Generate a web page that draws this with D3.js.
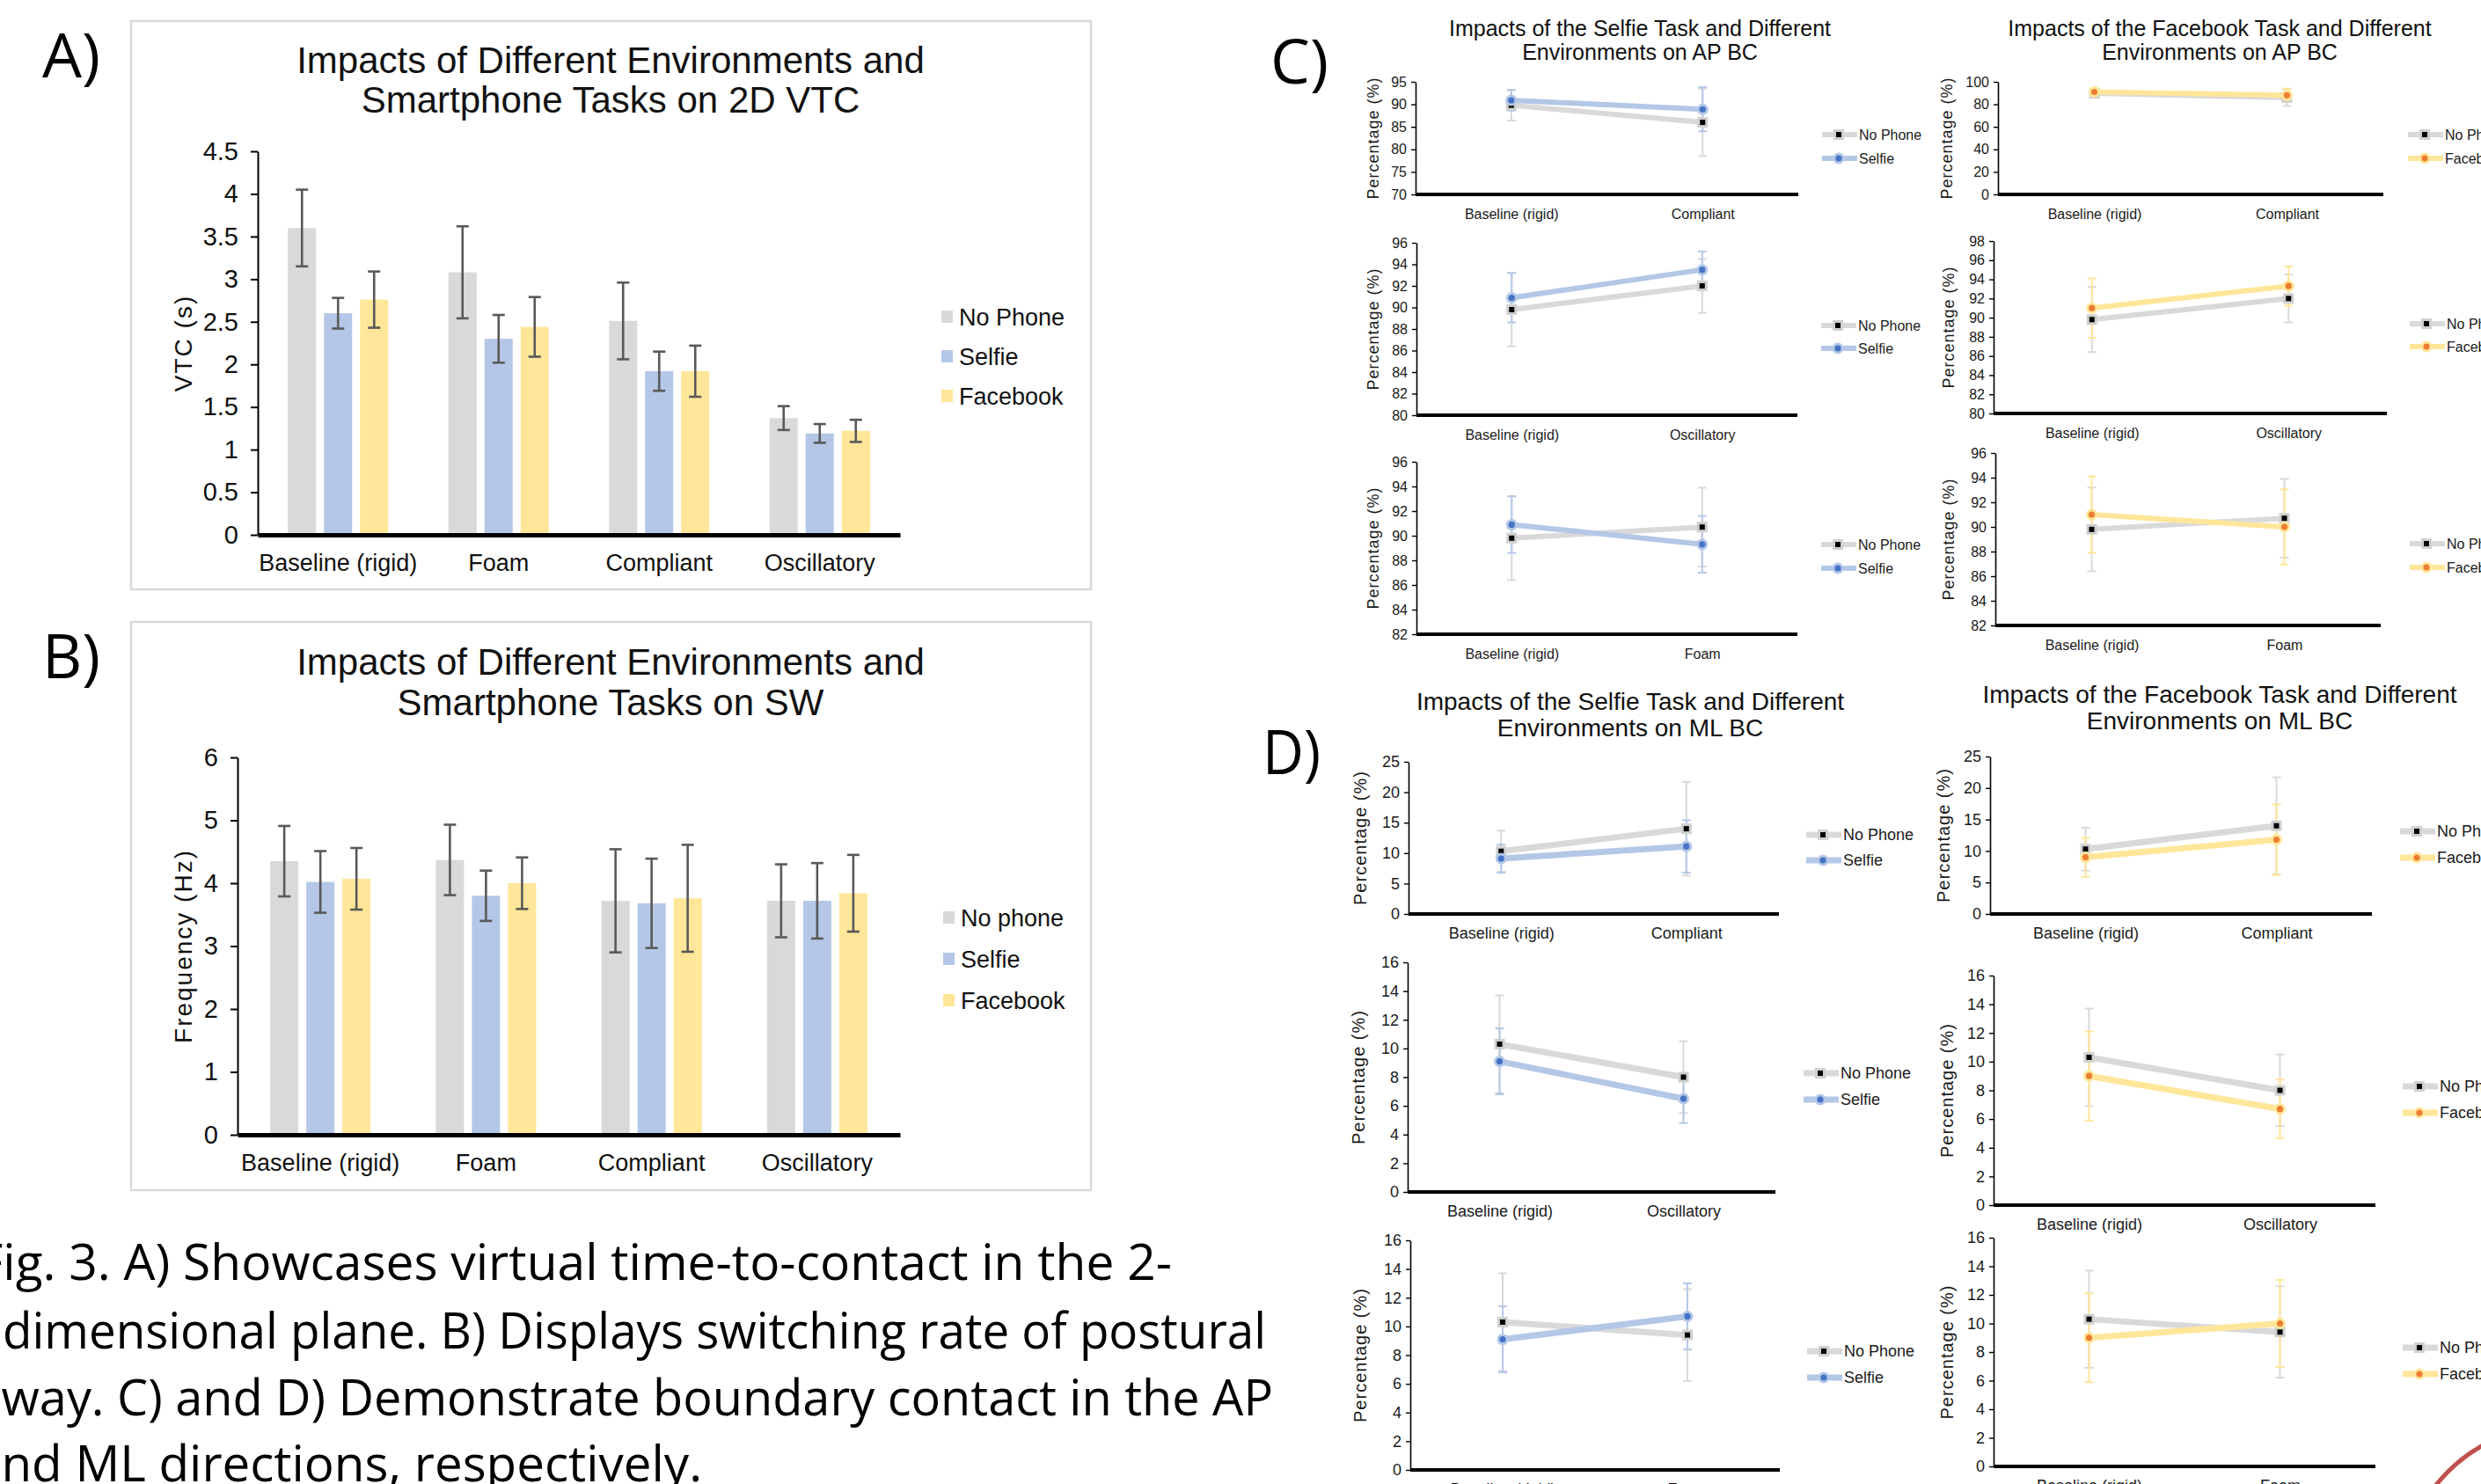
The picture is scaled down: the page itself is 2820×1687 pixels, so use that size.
<!DOCTYPE html>
<html>
<head>
<meta charset="utf-8">
<script src="https://cdn.jsdelivr.net/npm/d3@7"></script>
<style>
  body { margin: 0; background: #fff; overflow: hidden; }
  svg { display: block; font-family: "Liberation Sans", Arial, sans-serif; }
</style>
</head>
<body>
<svg width="2820" height="1687"></svg>
<script>
// ---------- data ----------
const conditions = ["Baseline (rigid)", "Foam", "Compliant", "Oscillatory"];
const seriesA = ["No Phone", "Selfie", "Facebook"];
const seriesB = ["No phone", "Selfie", "Facebook"];

// A) 2D VTC (s)
const vtcNoPhone = [3.60, 3.08, 2.51, 1.37];
const vtcNoPhoneErr = [0.45, 0.54, 0.45, 0.14];
const vtcSelfie = [2.60, 2.30, 1.92, 1.19];
const vtcSelfieErr = [0.18, 0.28, 0.23, 0.11];
const vtcFacebook = [2.76, 2.44, 1.92, 1.22];
const vtcFacebookErr = [0.33, 0.35, 0.30, 0.13];
const vtcTicks = [0, 0.5, 1, 1.5, 2, 2.5, 3, 3.5, 4, 4.5];

// B) SW frequency (Hz)
const swNoPhone = [4.35, 4.37, 3.72, 3.72];
const swNoPhoneErr = [0.56, 0.56, 0.82, 0.58];
const swSelfie = [4.02, 3.80, 3.68, 3.72];
const swSelfieErr = [0.49, 0.40, 0.71, 0.60];
const swFacebook = [4.07, 4.00, 3.76, 3.84];
const swFacebookErr = [0.49, 0.41, 0.85, 0.61];
const swTicks = [0, 1, 2, 3, 4, 5, 6];

// C) AP boundary contact (%)
const apNoPhone = [89.8, 90.7, 86.0, 92.0];
const apNoPhoneErr = [3.4, 3.2, 7.5, 2.5];
const apSelfie = [90.9, 89.3, 88.9, 93.5];
const apSelfieErr = [2.3, 2.3, 4.9, 1.7];
const apFacebook = [91.0, 90.0, 88.0, 93.3];
const apFacebookErr = [3.1, 3.05, 6.0, 2.05];

// D) ML boundary contact (%)
const mlNoPhone = [10.3, 9.4, 14.0, 8.0];
const mlNoPhoneErr = [3.4, 3.2, 7.7, 2.5];
const mlSelfie = [9.1, 10.7, 11.1, 6.5];
const mlSelfieErr = [2.3, 2.3, 4.3, 1.7];
const mlFacebook = [9.0, 10.0, 11.8, 6.7];
const mlFacebookErr = [3.1, 3.05, 5.6, 2.05];

const captionLines = [
  "Fig. 3. A) Showcases virtual time-to-contact in the 2-",
  "dimensional plane. B) Displays switching rate of postural",
  "sway. C) and D) Demonstrate boundary contact in the AP",
  "and ML directions, respectively."
];

// ---------- styles ----------
const barColors = ["#d9d9d9", "#b4c7e7", "#ffe699"];
const lineColor = { noPhone: "#d9d9d9", Selfie: "#b4c7e7", Facebook: "#ffe699" };
const dotColor = { Selfie: "#4472c4", Facebook: "#ed7d31" };

const svg = d3.select("svg");

// ---------- bar charts (A, B) ----------
function drawBarChart(cfg) {
  const g = svg.append("g");
  g.append("rect")
    .attr("x", cfg.frame[0]).attr("y", cfg.frame[1])
    .attr("width", cfg.frame[2] - cfg.frame[0]).attr("height", cfg.frame[3] - cfg.frame[1])
    .attr("fill", "none").attr("stroke", "#d9d9d9").attr("stroke-width", 2.5);

  cfg.title.forEach((t, i) => {
    g.append("text").attr("x", cfg.titleX).attr("y", cfg.titleY[i])
      .attr("text-anchor", "middle").attr("font-size", 42).attr("fill", "#111").text(t);
  });

  const x = d3.scaleBand().domain(conditions).range(cfg.xRange);
  const xs = d3.scaleBand().domain(cfg.series).range([-57, 57]).paddingInner(0.22);
  const y = d3.scaleLinear().domain([cfg.ticks[0], cfg.ticks[cfg.ticks.length - 1]]).range(cfg.yRange);

  const rows = [];
  cfg.series.forEach((s, si) => {
    conditions.forEach((c, ci) => {
      rows.push({ s, si, c, v: cfg.values[si][ci], e: cfg.errors[si][ci] });
    });
  });

  g.selectAll("rect.bar").data(rows).enter().append("rect")
    .attr("class", "bar")
    .attr("x", d => x(d.c) + x.bandwidth() / 2 + xs(d.s))
    .attr("y", d => y(d.v))
    .attr("width", xs.bandwidth())
    .attr("height", d => y(0) - y(d.v))
    .attr("fill", d => barColors[d.si]);

  const eb = g.selectAll("g.err").data(rows).enter().append("g")
    .attr("class", "err")
    .attr("transform", d => `translate(${x(d.c) + x.bandwidth() / 2 + xs(d.s) + xs.bandwidth() / 2},0)`)
    .attr("stroke", "#595959").attr("stroke-width", 2.6);
  eb.append("line").attr("y1", d => y(d.v - d.e)).attr("y2", d => y(d.v + d.e));
  eb.append("line").attr("x1", -7).attr("x2", 7).attr("y1", d => y(d.v + d.e)).attr("y2", d => y(d.v + d.e));
  eb.append("line").attr("x1", -7).attr("x2", 7).attr("y1", d => y(d.v - d.e)).attr("y2", d => y(d.v - d.e));

  const ya = g.append("g").attr("transform", `translate(${cfg.xRange[0]},0)`)
    .call(d3.axisLeft(y).tickValues(cfg.ticks).tickSize(8).tickSizeOuter(0).tickPadding(14).tickFormat(d => d));
  ya.select(".domain").attr("stroke", "#000").attr("stroke-width", 2);
  ya.selectAll(".tick line").attr("stroke", "#000").attr("stroke-width", 2);
  ya.selectAll("text").attr("font-size", 29).attr("fill", "#111").attr("font-family", "Liberation Sans, Arial, sans-serif");

  const xa = g.append("g").attr("transform", `translate(0,${y(0)})`)
    .call(d3.axisBottom(x).tickSize(0).tickSizeOuter(0).tickPadding(22));
  xa.select(".domain").attr("stroke", "#000").attr("stroke-width", 5);
  xa.selectAll("text").attr("font-size", 27).attr("fill", "#111").attr("font-family", "Liberation Sans, Arial, sans-serif");

  g.append("text")
    .attr("transform", `translate(${cfg.yTitleX},${(cfg.yRange[0] + cfg.yRange[1]) / 2}) rotate(-90)`)
    .attr("text-anchor", "middle").attr("dy", "0.35em")
    .attr("font-size", 28).attr("letter-spacing", 2).attr("fill", "#111").text(cfg.yTitle);

  const lg = g.selectAll("g.leg").data(cfg.series).enter().append("g")
    .attr("transform", (d, i) => `translate(${cfg.legX},${cfg.legY[i]})`);
  lg.append("rect").attr("x", 0).attr("y", -7).attr("width", 13).attr("height", 14)
    .attr("fill", (d, i) => barColors[i]);
  lg.append("text").attr("x", 20).attr("dy", "0.36em").attr("font-size", 27).attr("fill", "#111").text(d => d);
}

drawBarChart({
  frame: [149, 24, 1240, 670],
  title: ["Impacts of Different Environments and", "Smartphone Tasks on 2D VTC"],
  titleX: 694, titleY: [83, 128],
  series: seriesA,
  values: [vtcNoPhone, vtcSelfie, vtcFacebook],
  errors: [vtcNoPhoneErr, vtcSelfieErr, vtcFacebookErr],
  ticks: vtcTicks,
  xRange: [293, 1023], yRange: [608, 172],
  yTitle: "VTC (s)", yTitleX: 208,
  legX: 1070, legY: [360, 405, 450]
});

drawBarChart({
  frame: [149, 707, 1240, 1353],
  title: ["Impacts of Different Environments and", "Smartphone Tasks on SW"],
  titleX: 694, titleY: [767, 813],
  series: seriesB,
  values: [swNoPhone, swSelfie, swFacebook],
  errors: [swNoPhoneErr, swSelfieErr, swFacebookErr],
  ticks: swTicks,
  xRange: [270, 1023], yRange: [1290, 861],
  yTitle: "Frequency (Hz)", yTitleX: 208,
  legX: 1072, legY: [1043, 1090, 1137]
});

// ---------- line charts (C, D) ----------
function drawLineChart(cfg) {
  const g = svg.append("g");
  const pair = [conditions[0], conditions[cfg.cond]];
  const x = d3.scalePoint().domain(pair).range([cfg.ax, cfg.xEnd]).padding(0.5);
  const y = d3.scaleLinear().domain(cfg.domain).range([cfg.yBot, cfg.yTop]);
  const ticks = d3.range(cfg.domain[0], cfg.domain[1] + 0.001, cfg.step);

  const np = { key: "noPhone", vals: [cfg.np[0], cfg.np[cfg.cond]], errs: [cfg.npErr[0], cfg.npErr[cfg.cond]] };
  const tk = { key: cfg.task, vals: [cfg.tv[0], cfg.tv[cfg.cond]], errs: [cfg.tvErr[0], cfg.tvErr[cfg.cond]] };
  const both = [np, tk];

  const ya = g.append("g").attr("transform", `translate(${cfg.ax},0)`)
    .call(d3.axisLeft(y).tickValues(ticks).tickSize(5).tickSizeOuter(0).tickPadding(5).tickFormat(d3.format("d")));
  ya.select(".domain").attr("stroke", "#000").attr("stroke-width", 1.6);
  ya.selectAll(".tick line").attr("stroke", "#000").attr("stroke-width", 1.4);
  ya.selectAll("text").attr("font-size", cfg.fs).attr("fill", "#1a1a1a").attr("font-family", "Liberation Sans, Arial, sans-serif");

  // error bars
  both.forEach(s => {
    const eg = g.append("g").attr("stroke", lineColor[s.key]).attr("stroke-width", 2);
    pair.forEach((c, i) => {
      const cx = x(c), hi = y(s.vals[i] + s.errs[i]), lo = y(s.vals[i] - s.errs[i]);
      eg.append("line").attr("x1", cx).attr("x2", cx).attr("y1", hi).attr("y2", lo);
      eg.append("line").attr("x1", cx - 5).attr("x2", cx + 5).attr("y1", hi).attr("y2", hi);
      eg.append("line").attr("x1", cx - 5).attr("x2", cx + 5).attr("y1", lo).attr("y2", lo);
    });
  });

  const line = d3.line().x((d, i) => x(pair[i])).y(d => y(d));
  both.forEach(s => {
    g.append("path").datum(s.vals).attr("d", line)
      .attr("fill", "none").attr("stroke", lineColor[s.key]).attr("stroke-width", cfg.lw);
  });
  both.forEach(s => {
    s.vals.forEach((v, i) => drawMarker(g, s.key, x(pair[i]), y(v)));
  });

  const xa = g.append("g").attr("transform", `translate(0,${cfg.yBot})`)
    .call(d3.axisBottom(x).tickSize(0).tickSizeOuter(0).tickPadding(cfg.labPad));
  xa.select(".domain").attr("stroke", "#000").attr("stroke-width", 4).attr("d", `M${cfg.ax},0H${cfg.xEnd}`);
  xa.selectAll("text").attr("font-size", cfg.fs).attr("fill", "#1a1a1a").attr("font-family", "Liberation Sans, Arial, sans-serif");

  g.append("text")
    .attr("transform", `translate(${cfg.titleAxX},${(cfg.yTop + cfg.yBot) / 2}) rotate(-90)`)
    .attr("text-anchor", "middle").attr("dy", "0.35em")
    .attr("font-size", cfg.fs + 2).attr("letter-spacing", 1).attr("fill", "#1a1a1a").text("Percentage (%)");

  const names = ["No Phone", cfg.task];
  [np.key, tk.key].forEach((k, i) => {
    const ly = cfg.legY[i];
    g.append("line").attr("x1", cfg.legX).attr("x2", cfg.legX + 40).attr("y1", ly).attr("y2", ly)
      .attr("stroke", lineColor[k]).attr("stroke-width", cfg.lw);
    drawMarker(g, k, cfg.legX + 19, ly);
    g.append("text").attr("x", cfg.legX + 42).attr("y", ly).attr("dy", "0.36em")
      .attr("font-size", cfg.fs).attr("fill", "#1a1a1a").text(names[i]);
  });
}

function drawMarker(g, key, cx, cy) {
  if (key === "noPhone") {
    g.append("rect").attr("x", cx - 6).attr("y", cy - 6).attr("width", 12).attr("height", 12).attr("fill", "#d0d0d0");
    g.append("rect").attr("x", cx - 3).attr("y", cy - 3).attr("width", 6).attr("height", 6).attr("fill", "#000");
  } else {
    g.append("circle").attr("cx", cx).attr("cy", cy).attr("r", 6.5).attr("fill", lineColor[key]);
    g.append("circle").attr("cx", cx).attr("cy", cy).attr("r", 3.6).attr("fill", dotColor[key]);
  }
}

function chartTitle(lines, cx, ys, fs) {
  lines.forEach((t, i) => svg.append("text").attr("x", cx).attr("y", ys[i])
    .attr("text-anchor", "middle").attr("font-size", fs).attr("fill", "#111").text(t));
}

chartTitle(["Impacts of the Selfie Task and Different", "Environments on AP BC"], 1864, [41, 68], 25);
chartTitle(["Impacts of the Facebook Task and Different", "Environments on AP BC"], 2523, [41, 68], 25);
chartTitle(["Impacts of the Selfie Task and Different", "Environments on ML BC"], 1853, [807, 837], 28);
chartTitle(["Impacts of the Facebook Task and Different", "Environments on ML BC"], 2523, [799, 829], 28);

const cBase = { fs: 16, lw: 6, labPad: 17 };
const dBase = { fs: 18, lw: 7, labPad: 15 };

// C: Selfie (AP)
drawLineChart({ ...cBase, task: "Selfie", np: apNoPhone, npErr: apNoPhoneErr, tv: apSelfie, tvErr: apSelfieErr,
  cond: 2, ax: 1609, xEnd: 2044, yTop: 93, yBot: 221, domain: [70, 95], step: 5,
  titleAxX: 1561, legX: 2071, legY: [153, 180] });
drawLineChart({ ...cBase, task: "Selfie", np: apNoPhone, npErr: apNoPhoneErr, tv: apSelfie, tvErr: apSelfieErr,
  cond: 3, ax: 1610, xEnd: 2043, yTop: 276, yBot: 472, domain: [80, 96], step: 2,
  titleAxX: 1561, legX: 2070, legY: [370, 396] });
drawLineChart({ ...cBase, task: "Selfie", np: apNoPhone, npErr: apNoPhoneErr, tv: apSelfie, tvErr: apSelfieErr,
  cond: 1, ax: 1610, xEnd: 2043, yTop: 525, yBot: 721, domain: [82, 96], step: 2,
  titleAxX: 1561, legX: 2070, legY: [619, 646] });

// C: Facebook (AP)
drawLineChart({ ...cBase, task: "Facebook", np: apNoPhone, npErr: apNoPhoneErr, tv: apFacebook, tvErr: apFacebookErr,
  cond: 2, ax: 2271, xEnd: 2709, yTop: 93, yBot: 221, domain: [0, 100], step: 20,
  titleAxX: 2213, legX: 2737, legY: [153, 180] });
drawLineChart({ ...cBase, task: "Facebook", np: apNoPhone, npErr: apNoPhoneErr, tv: apFacebook, tvErr: apFacebookErr,
  cond: 3, ax: 2266, xEnd: 2713, yTop: 274, yBot: 470, domain: [80, 98], step: 2,
  titleAxX: 2215, legX: 2739, legY: [368, 394] });
drawLineChart({ ...cBase, task: "Facebook", np: apNoPhone, npErr: apNoPhoneErr, tv: apFacebook, tvErr: apFacebookErr,
  cond: 1, ax: 2268, xEnd: 2706, yTop: 515, yBot: 711, domain: [82, 96], step: 2,
  titleAxX: 2215, legX: 2739, legY: [618, 645] });

// D: Selfie (ML)
drawLineChart({ ...dBase, task: "Selfie", np: mlNoPhone, npErr: mlNoPhoneErr, tv: mlSelfie, tvErr: mlSelfieErr,
  cond: 2, ax: 1601, xEnd: 2022, yTop: 866, yBot: 1039, domain: [0, 25], step: 5,
  titleAxX: 1546, legX: 2053, legY: [949, 978] });
drawLineChart({ ...dBase, task: "Selfie", np: mlNoPhone, npErr: mlNoPhoneErr, tv: mlSelfie, tvErr: mlSelfieErr,
  cond: 3, ax: 1600, xEnd: 2018, yTop: 1094, yBot: 1355, domain: [0, 16], step: 2,
  titleAxX: 1544, legX: 2050, legY: [1220, 1250] });
drawLineChart({ ...dBase, task: "Selfie", np: mlNoPhone, npErr: mlNoPhoneErr, tv: mlSelfie, tvErr: mlSelfieErr,
  cond: 1, ax: 1603, xEnd: 2023, yTop: 1410, yBot: 1671, domain: [0, 16], step: 2,
  titleAxX: 1546, legX: 2054, legY: [1536, 1566] });

// D: Facebook (ML)
drawLineChart({ ...dBase, task: "Facebook", np: mlNoPhone, npErr: mlNoPhoneErr, tv: mlFacebook, tvErr: mlFacebookErr,
  cond: 2, ax: 2262, xEnd: 2696, yTop: 860, yBot: 1039, domain: [0, 25], step: 5,
  titleAxX: 2209, legX: 2728, legY: [945, 975] });
drawLineChart({ ...dBase, task: "Facebook", np: mlNoPhone, npErr: mlNoPhoneErr, tv: mlFacebook, tvErr: mlFacebookErr,
  cond: 3, ax: 2266, xEnd: 2700, yTop: 1109, yBot: 1370, domain: [0, 16], step: 2,
  titleAxX: 2213, legX: 2731, legY: [1235, 1265] });
drawLineChart({ ...dBase, task: "Facebook", np: mlNoPhone, npErr: mlNoPhoneErr, tv: mlFacebook, tvErr: mlFacebookErr,
  cond: 1, ax: 2266, xEnd: 2700, yTop: 1407, yBot: 1667, domain: [0, 16], step: 2,
  titleAxX: 2213, legX: 2731, legY: [1532, 1562] });

// ---------- panel letters and caption ----------
const capFont = "'Liberation Sans Narrow', 'Open Sans', sans-serif";
[["A)", 48, 88], ["B)", 48, 771], ["C)", 1444, 95], ["D)", 1435, 880]].forEach(([t, x, y]) => {
  svg.append("text").attr("x", x).attr("y", y).attr("font-size", 70)
    .attr("font-family", capFont).attr("textLength", 66).attr("lengthAdjust", "spacingAndGlyphs")
    .attr("fill", "#000").text(t);
});

const capX = [-26, 3, -25, -30];
const capLen = [1358, 1436, 1472, 828];
const capY = [1455, 1533, 1609, 1684];
captionLines.forEach((t, i) => {
  svg.append("text").attr("x", capX[i]).attr("y", capY[i]).attr("font-size", 56)
    .attr("font-family", capFont).attr("textLength", capLen[i]).attr("lengthAdjust", "spacingAndGlyphs")
    .attr("fill", "#000").text(t);
});

// decorative red arc in the lower right corner
svg.append("circle").attr("cx", 2910).attr("cy", 1800).attr("r", 180)
  .attr("fill", "none").attr("stroke", "#c0504d").attr("stroke-width", 5);
</script>
</body>
</html>
